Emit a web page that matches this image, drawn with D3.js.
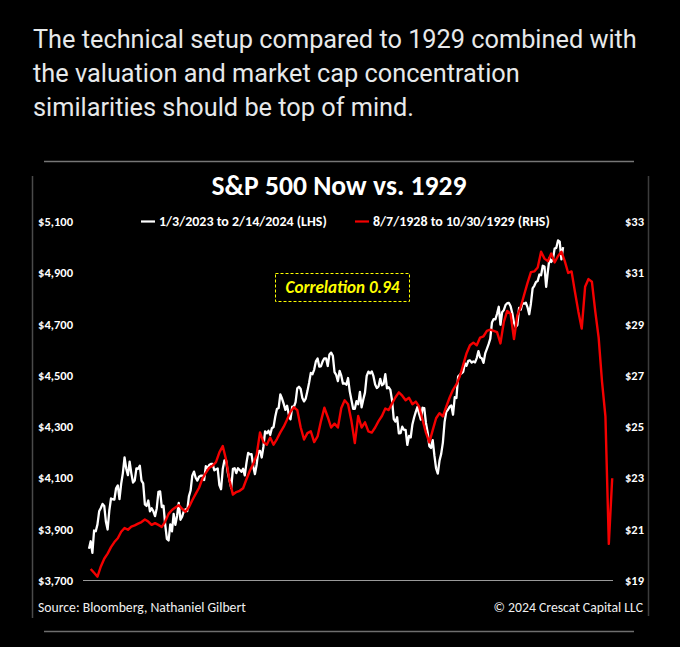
<!DOCTYPE html>
<html><head><meta charset="utf-8">
<script src="https://cdn.jsdelivr.net/npm/d3@7"></script>
<style>html,body{margin:0;padding:0;background:#000;} svg{display:block;}</style>
</head><body><svg id="c" width="680" height="647"></svg>
<script>
// ---------- data ----------
const tweetLines = [
  "The technical setup compared to 1929 combined with",
  "the valuation and market cap concentration",
  "similarities should be top of mind."
];
const chartTitle = "S&P 500 Now vs. 1929";
const seriesNames = ["1/3/2023 to 2/14/2024 (LHS)", "8/7/1928 to 10/30/1929 (RHS)"];
const leftTicks = [3700, 3900, 4100, 4300, 4500, 4700, 4900, 5100];
const rightTicks = [19, 21, 23, 25, 27, 29, 31, 33];
const correlationLabel = "Correlation 0.94";
const sourceText = "Source: Bloomberg, Nathaniel Gilbert";
const copyrightText = "\u00A9 2024 Crescat Capital LLC";

// S&P 500 daily closes, 1/3/2023 .. 2/14/2024 (LHS)
const sp2023 = [
 3824,3853,3808,3895,3892,3919,3970,3983,3999,3991,3929,3899,3973,4020,4017,4016,4060,4071,4018,4077,
 4119,4180,4136,4111,4164,4118,4082,4090,4137,4136,4148,4090,4079,3997,3991,4012,3970,3982,3970,
 3951,3981,4046,4048,3986,3992,3918,3862,3856,3919,3892,3960,3917,3952,4003,3937,3949,3971,3978,3971,4028,4051,4109,
 4125,4101,4090,4105,4109,4109,4092,4146,4138,4151,4155,4155,4130,4134,4137,4072,4056,4135,4169,
 4168,4120,4091,4061,4136,4138,4119,4138,4131,4124,4136,4110,4159,4198,4192,4193,4146,4115,4151,4205,4206,4180,
 4221,4282,4274,4284,4268,4294,4299,4339,4369,4373,4426,4410,4389,4366,4382,4348,4329,4378,4377,4396,4450,
 4456,4447,4412,4399,4410,4439,4472,4510,4505,4523,4555,4566,4535,4536,4555,4567,4567,4537,4582,4589,
 4577,4513,4502,4478,4518,4499,4468,4469,4464,4490,4438,4404,4370,4370,4400,4388,4436,4376,4406,4433,4498,4515,4508,
 4516,4497,4465,4451,4457,4487,4462,4467,4505,4450,4454,4444,4402,4330,4320,4337,4274,4275,4300,4288,
 4288,4229,4264,4258,4309,4336,4358,4377,4350,4328,4374,4373,4315,4278,4224,4217,4248,4187,4137,4117,4167,4194,
 4238,4318,4358,4366,4378,4383,4347,4415,4412,4496,4503,4508,4514,4547,4538,4557,4559,4550,4555,4551,4568,
 4595,4570,4567,4549,4586,4604,4622,4644,4707,4720,4719,4741,4768,4698,4747,4755,4775,4782,4783,4770,
 4743,4705,4689,4697,4764,4757,4783,4780,4784,4766,4739,4781,4840,4850,4865,4869,4894,4891,4928,4925,4846,
 4906,4959,4943,4954,4995,4998,5027,5022,4953,5001
];

// 1928-29 index, every second session, 8/7/1928 .. 10/30/1929 (RHS)
const sp1929 = [
 19.45,19.30,19.15,19.55,19.85,20.05,20.30,20.50,20.65,20.90,
 21.05,20.98,21.10,21.15,21.22,21.28,21.38,21.30,21.17,21.24,
 21.17,21.09,21.30,21.60,21.75,21.85,21.94,21.80,21.68,21.86,
 22.13,22.38,22.62,22.98,23.20,23.40,23.48,23.62,24.00,24.25,
 23.70,22.90,22.35,22.45,22.50,22.60,22.95,23.28,23.55,23.90,
 24.78,24.40,24.30,24.58,24.30,24.52,24.78,25.00,25.28,25.58,
 25.76,25.65,24.98,24.50,24.75,24.82,24.40,24.62,25.22,25.74,
 25.38,24.97,25.12,24.97,25.73,26.03,25.88,25.22,24.36,25.42,
 24.97,25.17,24.82,24.77,24.97,25.22,25.42,25.71,25.65,25.91,
 26.15,26.34,26.21,26.03,26.13,25.88,25.98,25.78,25.27,24.77,
 24.39,24.87,25.33,25.53,25.40,25.78,26.14,26.44,26.65,26.97,
 27.41,27.87,28.18,28.28,28.18,28.48,28.53,28.74,28.79,28.74,
 28.69,28.25,29.09,29.52,29.40,28.42,29.35,29.68,30.15,30.61,
 31.03,31.06,31.21,31.83,31.56,31.46,31.76,31.41,31.66,31.83,
 31.46,31.00,31.06,30.26,29.50,28.83,30.46,30.76,30.66,29.50,
 28.48,26.75,25.40,20.43,22.99
];

// ---------- drawing ----------
const svg = d3.select("#c");
svg.append("rect").attr("width", 680).attr("height", 647).attr("fill", "#000");

function fit(sel, target) {
  const w = sel.node().getComputedTextLength();
  const fs = parseFloat(sel.attr("font-size"));
  return fs * target / w;
}

// tweet text
const tw = svg.append("g").attr("font-family", "Roboto, 'Noto Sans', sans-serif").attr("fill", "#e7e9ea");
const twText = tw.selectAll("text").data(tweetLines).join("text")
  .attr("x", 33).attr("y", (d, i) => 48 + i * 34).attr("font-size", 23).text(d => d);
const twSize = fit(d3.select(twText.nodes()[0]), 604);
twText.attr("font-size", twSize);

// frame of embedded chart image
const frame = svg.append("g");
frame.append("line").attr("x1", 44).attr("x2", 634).attr("y1", 161.5).attr("y2", 161.5).attr("stroke", "#767676").attr("stroke-width", 1.5);
frame.append("line").attr("x1", 44).attr("x2", 634).attr("y1", 631.5).attr("y2", 631.5).attr("stroke", "#6e6e6e").attr("stroke-width", 1.5);
frame.append("line").attr("x1", 32.5).attr("x2", 32.5).attr("y1", 176).attr("y2", 618).attr("stroke", "#4a4a4a").attr("stroke-width", 1.5);
frame.append("line").attr("x1", 648.5).attr("x2", 648.5).attr("y1", 176).attr("y2", 616).attr("stroke", "#3c3c3c").attr("stroke-width", 1.5);

const chartFont = "Carlito, Lato, 'Open Sans', sans-serif";

// title
const title = svg.append("text").attr("x", 339).attr("y", 195).attr("text-anchor", "middle")
  .attr("font-family", chartFont).attr("font-weight", "bold").attr("font-size", 26)
  .attr("fill", "#fff").text(chartTitle);
title.attr("font-size", fit(title, 255));

// scales
const x = d3.scaleLinear().domain([0, 309]).range([89, 612.2]);
const yL = d3.scaleLinear().domain([3700, 5100]).range([580.5, 221.7]);
const yR = d3.scaleLinear().domain([19, 33]).range([580.5, 221.7]);

// axes
const fmtL = d => "$" + d3.format(",")(d);
const axL = svg.append("g").attr("transform", "translate(73,0)")
  .call(d3.axisLeft(yL).tickValues(leftTicks).tickFormat(fmtL).tickSize(0).tickPadding(0));
const axR = svg.append("g").attr("transform", "translate(625,0)")
  .call(d3.axisRight(yR).tickValues(rightTicks).tickFormat(d => "$" + d).tickSize(0).tickPadding(0));
[axL, axR].forEach(a => {
  a.select(".domain").remove();
  a.selectAll("text").attr("font-family", chartFont).attr("font-weight", "bold")
    .attr("font-size", 12.5).attr("fill", "#fff");
});

// baseline
svg.append("line").attr("x1", 83).attr("x2", 613).attr("y1", yL(3700)).attr("y2", yL(3700))
  .attr("stroke", "#9a9a9a").attr("stroke-width", 1);

// series lines
const lineW = d3.line().x((d, i) => x(i)).y(d => yL(d));
const lineR = d3.line().x((d, i) => x(1 + 2 * i)).y(d => yR(d));
svg.append("path").datum(sp2023).attr("d", lineW).attr("fill", "none")
  .attr("stroke", "#ffffff").attr("stroke-width", 2.3).attr("stroke-linejoin", "round");
svg.append("path").datum(sp1929).attr("d", lineR).attr("fill", "none")
  .attr("stroke", "#f40000").attr("stroke-width", 2.4).attr("stroke-linejoin", "round");

// legend
const legColors = ["#ffffff", "#f40000"];
const legX = [141, 355];
const leg = svg.append("g").selectAll("g").data(seriesNames).join("g")
  .attr("transform", (d, i) => `translate(${legX[i]},221.5)`);
leg.append("line").attr("x1", 0).attr("x2", 14).attr("y1", 0).attr("y2", 0)
  .attr("stroke", (d, i) => legColors[i]).attr("stroke-width", 2.2);
const legText = leg.append("text").attr("x", 18).attr("dy", "0.35em")
  .attr("font-family", chartFont).attr("font-weight", "bold").attr("font-size", 12)
  .attr("fill", "#fff").text(d => d);
legText.attr("font-size", fit(d3.select(legText.nodes()[1]), 177));

// correlation box
svg.append("rect").attr("x", 275.5).attr("y", 273.5).attr("width", 134).attr("height", 28)
  .attr("fill", "none").attr("stroke", "#ffff00").attr("stroke-width", 1).attr("stroke-dasharray", "3,2");
const corr = svg.append("text").attr("x", 342.5).attr("y", 293).attr("text-anchor", "middle")
  .attr("font-family", chartFont).attr("font-weight", "bold").attr("font-style", "italic")
  .attr("font-size", 15).attr("fill", "#ffff00").text(correlationLabel);
corr.attr("font-size", fit(corr, 114));

// footer
const src = svg.append("text").attr("x", 38).attr("y", 612)
  .attr("font-family", chartFont).attr("font-size", 13).attr("fill", "#f0f0f0").text(sourceText);
const fs = fit(src, 208);
src.attr("font-size", fs);
svg.append("text").attr("x", 643).attr("y", 612).attr("text-anchor", "end")
  .attr("font-family", chartFont).attr("font-size", fs).attr("fill", "#f0f0f0").text(copyrightText);
</script>
</body></html>
